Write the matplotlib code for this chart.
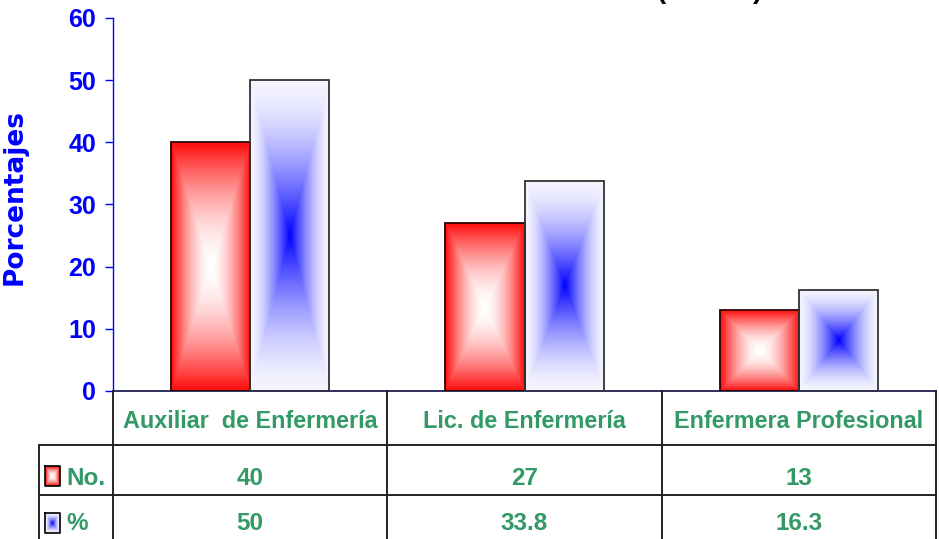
import numpy as np
import matplotlib
matplotlib.use("Agg")
import matplotlib.pyplot as plt

categories = ["Auxiliar  de Enfermería", "Lic. de Enfermería", "Enfermera Profesional"]
no_values = [40, 27, 13]
pct_values = [50, 33.8, 16.3]
pct_labels = ["50", "33.8", "16.3"]
series_names = ["No.", "%"]
y_ticks = [0, 10, 20, 30, 40, 50, 60]

W, H = 939, 539
BLUE = "#0000ff"
GREEN = "#339966"
FONT = ["Liberation Sans", "DejaVu Sans"]


def grad_red(nx=80, ny=120):
    u = np.abs(np.linspace(-1, 1, nx))[None, :]
    v = np.abs(np.linspace(-1, 1, ny))[:, None]
    t = np.maximum(u, v) ** 1.7
    img = np.ones((ny, nx, 3))
    img[..., 1] = 1 - t * 0.95
    img[..., 2] = 1 - t * 0.95
    return img


def grad_blue(nx=80, ny=120):
    u = np.abs(np.linspace(-1, 1, nx))[None, :]
    v = np.abs(np.linspace(-1, 1, ny))[:, None]
    t = np.maximum(u, v)
    f = (1 - t) ** 1.6
    edge = np.array([0.96, 0.96, 1.0])
    core = np.array([0.0, 0.0, 1.0])
    return edge + (core - edge) * f[..., None]


fig = plt.figure(figsize=(W / 100, H / 100), dpi=100)

# main chart area
ax = fig.add_axes([113 / W, (H - 391) / H, (936 - 113) / W, (391 - 17.8) / H])
x = np.arange(len(categories))
bw = 0.288

for i in range(len(categories)):
    xr = x[i] - bw
    xb = x[i]
    ax.imshow(grad_red(), extent=(xr, xr + bw, 0, no_values[i]), aspect="auto",
              interpolation="bilinear", zorder=2)
    ax.imshow(grad_blue(), extent=(xb, xb + bw, 0, pct_values[i]), aspect="auto",
              interpolation="bilinear", zorder=2)

ax.bar(x - bw / 2, no_values, bw, facecolor="none", edgecolor="#300000", linewidth=1.3, zorder=3)
ax.bar(x + bw / 2, pct_values, bw, facecolor="none", edgecolor="#333333", linewidth=1.3, zorder=3)

ax.set_xlim(-0.5, 2.5)
ax.set_ylim(0, 60)
ax.set_yticks(y_ticks)
ax.set_xticks([])
for s in ["top", "right"]:
    ax.spines[s].set_visible(False)
ax.spines["left"].set_color(BLUE)
ax.spines["left"].set_linewidth(1.0)
ax.spines["bottom"].set_color("#1f1f4f")
ax.spines["bottom"].set_linewidth(1.3)
ax.tick_params(axis="y", colors=BLUE, length=6, width=1, pad=6)
for lab in ax.get_yticklabels():
    lab.set_fontfamily(FONT)
    lab.set_fontweight("bold")
    lab.set_fontsize(18)

fig.text(15 / W, 1 - 197 / H, "Porcentajes", rotation=90, ha="center", va="center",
         color=BLUE, fontsize=19, fontweight="bold", family="DejaVu Sans")

# title remnants (cut off at the top of the picture)
fig.text(661 / W, 1 + 1.5 / H, "(", ha="center", va="baseline", fontsize=20,
         fontweight="bold", color="black", family=FONT)
fig.text(758 / W, 1 + 1.5 / H, ")", ha="center", va="baseline", fontsize=20,
         fontweight="bold", color="black", family=FONT)

# data table below the chart
tax = fig.add_axes([39 / W, 0, (936 - 39) / W, 148 / H])
scale = (936 - 113) / 3.0
x_left = -0.5 - (113 - 39) / scale
tax.axis("off")

lc = "#222222"
lw = 1.4
col_edges = [-0.5, 0.5, 1.5, 2.5]
for ce in col_edges:
    tax.plot([ce, ce], [0, 160], color=lc, lw=lw, clip_on=False)
tax.plot([x_left, x_left], [54, 160], color=lc, lw=lw, clip_on=False)
for ry in [54, 104]:
    tax.plot([x_left, 2.5], [ry, ry], color=lc, lw=lw, clip_on=False)

txt = dict(color=GREEN, fontweight="bold", family=FONT, ha="center", va="baseline")
for i, c in enumerate(categories):
    tax.text(x[i], 37, c, fontsize=16.8, **txt)
    tax.text(x[i], 94, str(no_values[i]), fontsize=17.5, **txt)
    tax.text(x[i], 139, pct_labels[i], fontsize=17.5, **txt)

# legend keys in row headers
kx0 = x_left + (45 - 39) / scale
kx1 = x_left + (60 - 39) / scale
tax.imshow(grad_red(15, 20), extent=(kx0, kx1, 95, 75), aspect="auto", interpolation="bilinear")
tax.imshow(grad_blue(15, 20), extent=(kx0, kx1, 142, 122), aspect="auto", interpolation="bilinear")
for (y0, y1) in [(75, 95), (122, 142)]:
    tax.plot([kx0, kx1, kx1, kx0, kx0], [y0, y0, y1, y1, y0], color="black", lw=1.2)
tax.set_xlim(x_left, 2.5)
tax.set_ylim(148, 0)

lx = x_left + (66 - 39) / scale
tax.text(lx, 94, series_names[0], fontsize=17.5, color=GREEN, fontweight="bold",
         family=FONT, ha="left", va="baseline")
tax.text(lx, 139, series_names[1], fontsize=17.5, color=GREEN, fontweight="bold",
         family=FONT, ha="left", va="baseline")

fig.savefig("out.png", dpi=100)
